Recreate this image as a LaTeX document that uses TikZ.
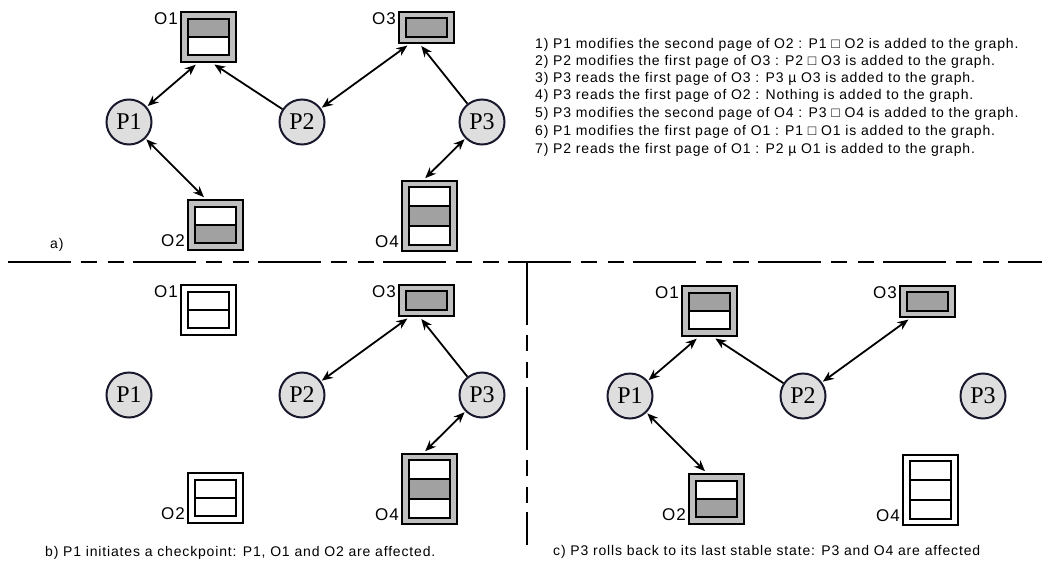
\documentclass[tikz,border=0pt]{standalone}
\usepackage{fontspec}
\setmainfont{Liberation Sans}
\newfontfamily\procfont{Liberation Serif}
\newfontfamily\txtfont[LetterSpace=6]{Liberation Sans}
\usetikzlibrary{arrows.meta, calc}
\definecolor{bandgray}{gray}{0.75}
\definecolor{pagegray}{gray}{0.63}
\definecolor{procfill}{gray}{0.87}
\definecolor{procline}{rgb}{0.1,0.1,0.18}

\begin{document}
\begin{tikzpicture}[x=1pt, y=-1pt,
    proc/.style={circle, draw=procline, fill=procfill, line width=2pt, minimum size=45pt, inner sep=0pt, font=\procfont\fontsize{24}{24}\selectfont},
    obj/.style={draw=black, fill=bandgray, line width=2.8pt, inner sep=0pt, minimum width=55pt},
    objw/.style={obj, fill=white},
    pgw/.style={draw=black, fill=white, line width=2.5pt},
    pgd/.style={pgw, fill=pagegray},
    olbl/.style={font=\txtfont\fontsize{17}{17}\selectfont, inner sep=1.5pt},
    txt/.style={font=\txtfont\fontsize{14}{14}\selectfont, inner sep=0pt, anchor=west},
    link/.style={line width=1.8pt, shorten >=2pt, -{Stealth[length=11pt,width=9pt]}},
    dlink/.style={link, shorten <=1pt, {Stealth[length=11pt,width=9pt]}-{Stealth[length=11pt,width=9pt]}},
    sep/.style={line width=2.8pt, dash pattern=on 63pt off 9.5pt on 16pt off 11pt on 16pt off 9.5pt},
  ]
  \useasboundingbox (0,0) rectangle (1042,565);

  % a) the dependency graph after the seven accesses
  \begin{scope}
    \node[proc] (aP1) at (129,122) {P1};
    \node[proc] (aP2) at (302,122) {P2};
    \node[proc] (aP3) at (482,122) {P3};
    \node[obj, minimum height=50pt] (aO1) at (208.5,37) {};
      \draw[pgd] (188,19) rectangle (229,37);
      \draw[pgw] (188,37) rectangle (229,55);
    \node[obj, minimum height=31pt] (aO3) at (426.5,27.5) {};
      \draw[pgd] (406,18) rectangle (447,37);
    \node[obj, minimum height=50pt] (aO2) at (215.5,225) {};
      \draw[pgw] (195,207) rectangle (236,225);
      \draw[pgd] (195,225) rectangle (236,243);
    \node[obj, minimum height=70pt] (aO4) at (429.5,216) {};
      \draw[pgw] (409,187) rectangle (450,206);
      \draw[pgd] (409,206) rectangle (450,226);
      \draw[pgw] (409,226) rectangle (450,245);
    \node[olbl, anchor=north east] at (aO1.north west) {O1};
    \node[olbl, anchor=north east] at (aO3.north west) {O3};
    \node[olbl, anchor=base east] at ($(aO2.south west)+(0,-5)$) {O2};
    \node[olbl, anchor=base east] at ($(aO4.south west)+(0,-5)$) {O4};
    \draw[dlink] (aP1) -- (aO1.247);
    \draw[link] (aP2) -- (aO1.279);
    \draw[dlink] (aP2) -- (aO3.224);
    \draw[link] (aP3) -- (aO3.249);
    \draw[dlink] (aP1) -- (aO2.111);
    \draw[dlink] (aP3) -- (aO4.99);
    \node[txt] (capa) at (50,245) {a)};
  \end{scope}

  % list of accesses
  \node[txt] (st1) at (535,45) {1) P1 modifies the second page of O2 : P1 □ O2 is added to the graph.};
  \node[txt] (st2) at (535,62) {2) P2 modifies the first page of O3 : P2 □ O3 is added to the graph.};
  \node[txt] (st3) at (535,79) {3) P3 reads the first page of O3 : P3 µ O3 is added to the graph.};
  \node[txt] (st4) at (535,96) {4) P3 reads the first page of O2 : Nothing is added to the graph.};
  \node[txt] (st5) at (535,114) {5) P3 modifies the second page of O4 : P3 □ O4 is added to the graph.};
  \node[txt] (st6) at (535,132) {6) P1 modifies the first page of O1 : P1 □ O1 is added to the graph.};
  \node[txt] (st7) at (535,150) {7) P2 reads the first page of O1 : P2 µ O1 is added to the graph.};

  % separators
  \draw[sep] (8,262) -- (1042,262);
  \draw[sep] (527,262) -- (527,545);

  % b) checkpoint of P1
  \begin{scope}[shift={(0,273)}]
    \node[proc] (bP1) at (129,122) {P1};
    \node[proc] (bP2) at (302,122) {P2};
    \node[proc] (bP3) at (482,122) {P3};
    \node[objw, minimum height=50pt] (bO1) at (208.5,37) {};
      \draw[pgw] (188,19) rectangle (229,37);
      \draw[pgw] (188,37) rectangle (229,55);
    \node[obj, minimum height=31pt] (bO3) at (426.5,27.5) {};
      \draw[pgd] (406,18) rectangle (447,37);
    \node[objw, minimum height=50pt] (bO2) at (215.5,225) {};
      \draw[pgw] (195,207) rectangle (236,225);
      \draw[pgw] (195,225) rectangle (236,243);
    \node[obj, minimum height=70pt] (bO4) at (429.5,216) {};
      \draw[pgw] (409,187) rectangle (450,206);
      \draw[pgd] (409,206) rectangle (450,226);
      \draw[pgw] (409,226) rectangle (450,245);
    \node[olbl, anchor=north east] at (bO1.north west) {O1};
    \node[olbl, anchor=north east] at (bO3.north west) {O3};
    \node[olbl, anchor=base east] at ($(bO2.south west)+(0,-5)$) {O2};
    \node[olbl, anchor=base east] at ($(bO4.south west)+(0,-5)$) {O4};
    \draw[dlink] (bP2) -- (bO3.224);
    \draw[link] (bP3) -- (bO3.249);
    \draw[dlink] (bP3) -- (bO4.99);
  \end{scope}
  \node[txt] (capb) at (45,553) {b) P1 initiates a checkpoint: P1, O1 and O2 are affected.};

  % c) rollback of P3
  \begin{scope}[shift={(501,274)}]
    \node[proc] (cP1) at (129,122) {P1};
    \node[proc] (cP2) at (302,122) {P2};
    \node[proc] (cP3) at (482,122) {P3};
    \node[obj, minimum height=50pt] (cO1) at (208.5,37) {};
      \draw[pgd] (188,19) rectangle (229,37);
      \draw[pgw] (188,37) rectangle (229,55);
    \node[obj, minimum height=31pt] (cO3) at (426.5,27.5) {};
      \draw[pgd] (406,18) rectangle (447,37);
    \node[obj, minimum height=50pt] (cO2) at (215.5,225) {};
      \draw[pgw] (195,207) rectangle (236,225);
      \draw[pgd] (195,225) rectangle (236,243);
    \node[objw, minimum height=70pt] (cO4) at (429.5,216) {};
      \draw[pgw] (409,187) rectangle (450,206);
      \draw[pgw] (409,206) rectangle (450,226);
      \draw[pgw] (409,226) rectangle (450,245);
    \node[olbl, anchor=north east] at (cO1.north west) {O1};
    \node[olbl, anchor=north east] at (cO3.north west) {O3};
    \node[olbl, anchor=base east] at ($(cO2.south west)+(0,-5)$) {O2};
    \node[olbl, anchor=base east] at ($(cO4.south west)+(0,-5)$) {O4};
    \draw[dlink] (cP1) -- (cO1.247);
    \draw[link] (cP2) -- (cO1.279);
    \draw[dlink] (cP2) -- (cO3.224);
    \draw[dlink] (cP1) -- (cO2.111);
  \end{scope}
  \node[txt] (capc) at (553,552) {c) P3 rolls back to its last stable state: P3 and O4 are affected};
\end{tikzpicture}
\end{document}
